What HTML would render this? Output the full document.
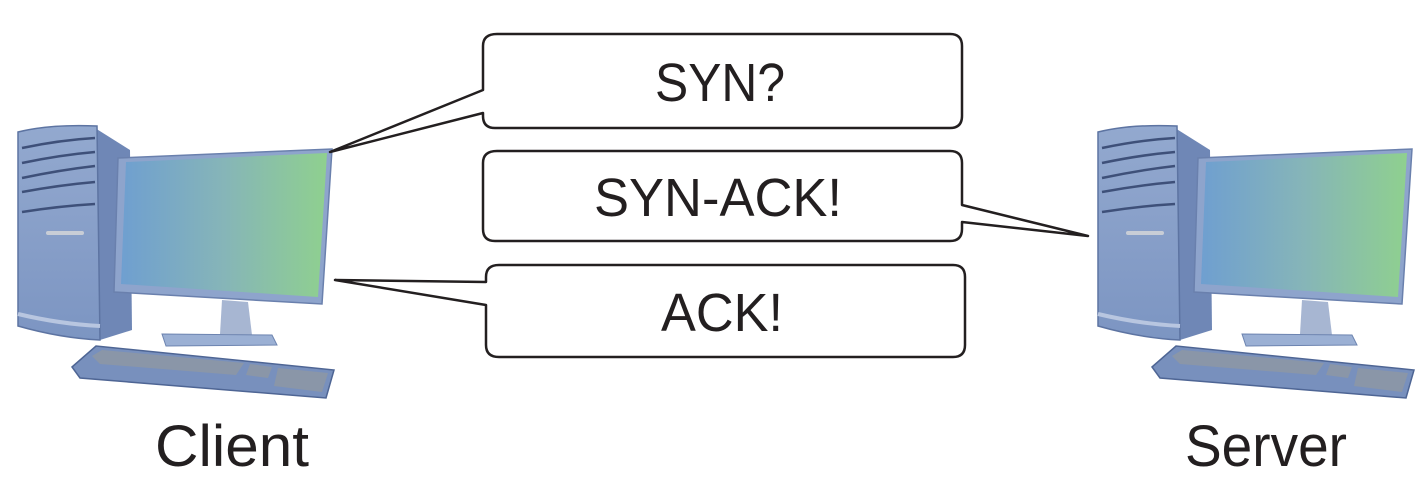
<!DOCTYPE html>
<html><head><meta charset="utf-8"><style>
html,body{margin:0;padding:0;background:#fff;}
svg{display:block;}
text{font-family:"Liberation Sans",sans-serif;fill:#231f20;}
</style></head><body>
<svg width="1428" height="500" viewBox="0 0 1428 500" xmlns="http://www.w3.org/2000/svg">
<defs>
<linearGradient id="scr" x1="0" y1="0" x2="1" y2="0">
<stop offset="0" stop-color="#6f9fd0"/><stop offset="0.5" stop-color="#86b5b8"/><stop offset="1" stop-color="#8fd08f"/>
</linearGradient>
<linearGradient id="tw" x1="0" y1="0" x2="0" y2="1">
<stop offset="0" stop-color="#93a9cf"/><stop offset="1" stop-color="#7c95c2"/>
</linearGradient>
<g id="pc">
<polygon points="95,128 130,150 132,330 100,340" fill="#6f87b6"/>
<path d="M18,132 Q50,124 97,126 L100,340 Q60,338 18,326 Z" fill="url(#tw)" stroke="#5d74a2" stroke-width="1.5"/>
<path d="M18,314 Q60,324 100,326" stroke="#b8c6e0" stroke-width="4" fill="none"/>
<g stroke="#3e5079" stroke-width="2.5" fill="none">
<path d="M22,148 Q60,140 95,138"/><path d="M22,163 Q60,155 95,152"/><path d="M22,178 Q60,170 95,166"/>
<path d="M22,192 Q60,185 95,182"/><path d="M22,212 Q60,206 95,204"/>
</g>
<rect x="46" y="231" width="38" height="4" rx="2" fill="#c8cdd6"/>
<polygon points="118,158 332,149 322,304 114,292" fill="#8ea4cc" stroke="#6a80ad" stroke-width="1.5"/>
<polygon points="126,162 327,153 318,297 121,284" fill="url(#scr)"/>
<polygon points="222,300 248,302 252,335 220,334" fill="#a7b6d2"/>
<polygon points="162,334 272,335 277,345 166,346" fill="#9bb0d4" stroke="#6d84b0" stroke-width="1"/>
<polygon points="72,367 96,346 334,370 326,398 80,378" fill="#7890bd" stroke="#4e6594" stroke-width="1.5"/>
<polygon points="92,356 102,350 244,363 236,375 100,364" fill="#8a96a8"/>
<polygon points="278,368 328,373 322,392 274,386" fill="#8a96a8"/>
<polygon points="250,364 272,367 268,378 246,375" fill="#8a96a8"/>
</g>
</defs>
<use href="#pc"/>
<use href="#pc" transform="translate(1080,0)"/>

<g fill="#fff" stroke="#231f20" stroke-width="2.5" stroke-linejoin="round">
<path d="M497,34 H950 Q962,34 962,46 V116 Q962,128 950,128 H495 Q483,128 483,116 V113 L330,152 L483,90 V46 Q483,34 497,34 Z"/>
<path d="M497,151 H950 Q962,151 962,163 V205 L1088,236 L962,222 V229 Q962,241 950,241 H495 Q483,241 483,229 V163 Q483,151 497,151 Z"/>
<path d="M499,265 H953 Q965,265 965,277 V345 Q965,357 953,357 H499 Q486,357 486,345 V305 L335,280 L486,282 V277 Q486,265 499,265 Z"/>
</g>
<text x="720" y="101" font-size="54" text-anchor="middle" textLength="130" lengthAdjust="spacingAndGlyphs">SYN?</text>
<text x="718" y="216" font-size="54" text-anchor="middle" textLength="248" lengthAdjust="spacingAndGlyphs">SYN-ACK!</text>
<text x="722" y="331" font-size="54" text-anchor="middle" textLength="122" lengthAdjust="spacingAndGlyphs">ACK!</text>
<text x="232" y="466" font-size="58" text-anchor="middle" textLength="154" lengthAdjust="spacingAndGlyphs">Client</text>
<text x="1266" y="466" font-size="58" text-anchor="middle" textLength="162" lengthAdjust="spacingAndGlyphs">Server</text>
</svg>
</body></html>
